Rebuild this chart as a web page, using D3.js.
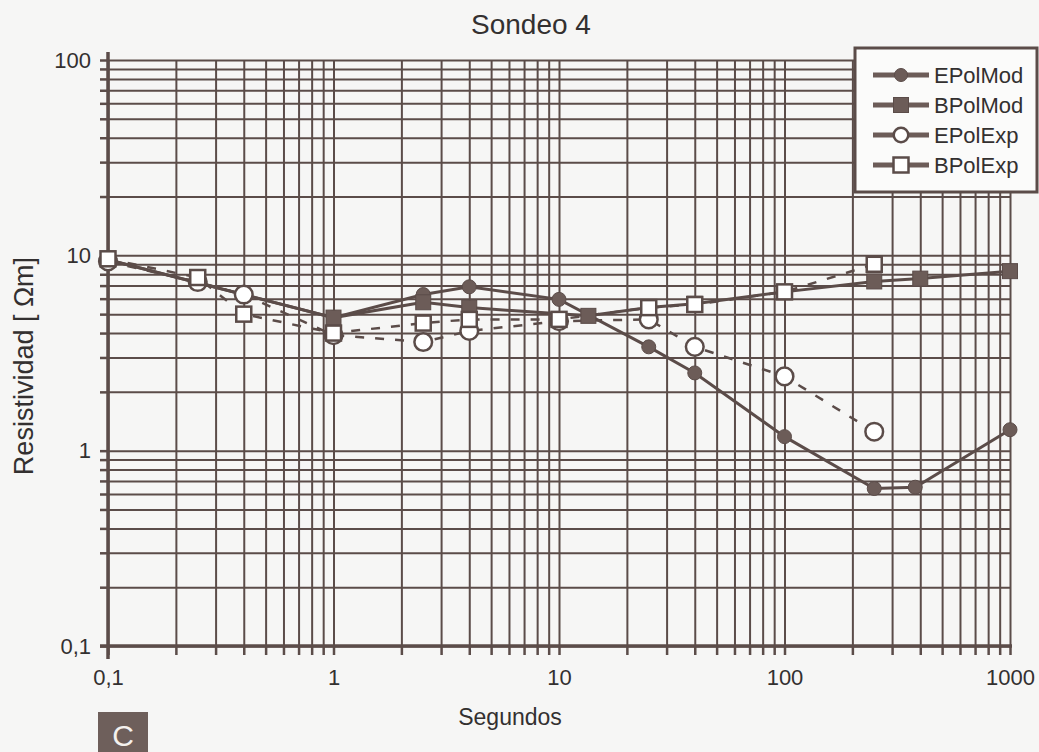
<!DOCTYPE html>
<html>
<head>
<meta charset="utf-8">
<script src="https://cdn.jsdelivr.net/npm/d3@7"></script>
<style>
  body { margin: 0; background: #f6f6f5; }
  svg { display: block; }
  svg text { font-family: "Liberation Sans", Arial, sans-serif; }
</style>
</head>
<body>
<svg id="chart" width="1039" height="752"></svg>
<script>
// periodos (s) y resistividad aparente (ohm m)
var EPOLMOD_T = [0.1, 1, 2.5, 4, 10, 25, 40, 100, 250, 380, 1000];
var EPOLMOD_R = [9.5, 4.8, 6.3, 6.9, 5.95, 3.4, 2.5, 1.18, 0.64, 0.65, 1.28];

var BPOLMOD_T = [0.1, 1, 2.5, 4, 13.5, 25, 40, 100, 250, 400, 1000];
var BPOLMOD_R = [9.5, 4.8, 5.75, 5.4, 4.9, 5.4, 5.65, 6.5, 7.35, 7.6, 8.3];

var EPOLEXP_T = [0.1, 0.25, 0.4, 1, 2.5, 4, 10, 25, 40, 100, 250];
var EPOLEXP_R = [9.3, 7.3, 6.3, 3.9, 3.6, 4.1, 4.6, 4.7, 3.4, 2.4, 1.25];

var BPOLEXP_T = [0.1, 0.25, 0.4, 1, 2.5, 4, 10, 25, 40, 100, 250];
var BPOLEXP_R = [9.6, 7.7, 5.0, 4.0, 4.5, 4.7, 4.7, 5.4, 5.6, 6.5, 9.0];

var SERIES_NAMES = ["EPolMod", "BPolMod", "EPolExp", "BPolExp"];
var X_LABELS = { 0.1: "0,1", 1: "1", 10: "10", 100: "100", 1000: "1000" };
var Y_LABELS = { 0.1: "0,1", 1: "1", 10: "10", 100: "100" };

var INK = "#5b4c49", MARK = "#6c5c58", TEXT = "#333030";

var svg = d3.select("#chart");
var L = 108, R = 1010, T = 60, B = 646;

var x = d3.scaleLog().domain([0.1, 1000]).range([L, R]);
var y = d3.scaleLog().domain([0.1, 100]).range([B, T]);

// rejilla
var gridX = svg.append("g").attr("transform", "translate(0," + B + ")")
  .call(d3.axisBottom(x).tickValues(x.ticks()).tickSize(-(B - T)).tickFormat(""));
var gridY = svg.append("g").attr("transform", "translate(" + L + ",0)")
  .call(d3.axisLeft(y).tickValues(y.ticks()).tickSize(-(R - L)).tickFormat(""));
[gridX, gridY].forEach(function(g) {
  g.select(".domain").remove();
  g.selectAll("line").attr("stroke", INK).attr("stroke-width", 2);
});

// ejes con marcas hacia fuera
var axX = svg.append("g").attr("transform", "translate(0," + B + ")")
  .call(d3.axisBottom(x).tickValues(x.ticks()).tickSize(9)
    .tickFormat(function(d) { return X_LABELS[d] || ""; }));
var axY = svg.append("g").attr("transform", "translate(" + L + ",0)")
  .call(d3.axisLeft(y).tickValues(y.ticks()).tickSize(8)
    .tickFormat(function(d) { return Y_LABELS[d] || ""; }));
[axX, axY].forEach(function(g) {
  g.attr("font-family", null).attr("font-size", null);
  g.select(".domain").remove();
  g.selectAll("line").attr("stroke", INK).attr("stroke-width", 2.5);
  g.selectAll("text").attr("fill", TEXT).style("font-size", "22px");
});
axX.selectAll("text").attr("dy", "1.23em");
axY.selectAll("text").attr("x", -17);

svg.append("line").attr("x1", L).attr("x2", L).attr("y1", T - 8).attr("y2", B + 13)
  .attr("stroke", INK).attr("stroke-width", 3.5);
svg.append("line").attr("x1", L - 8).attr("x2", R + 2).attr("y1", B).attr("y2", B)
  .attr("stroke", INK).attr("stroke-width", 3.5);

// series
var series = [
  { t: EPOLMOD_T, r: EPOLMOD_R, dash: null, shape: "circle", fill: MARK },
  { t: BPOLMOD_T, r: BPOLMOD_R, dash: null, shape: "square", fill: MARK },
  { t: EPOLEXP_T, r: EPOLEXP_R, dash: "9,11", shape: "circle", fill: "#ffffff" },
  { t: BPOLEXP_T, r: BPOLEXP_R, dash: "9,11", shape: "square", fill: "#ffffff" }
];

var line = d3.line().x(function(d) { return x(d[0]); }).y(function(d) { return y(d[1]); });

function drawMarker(g, shape, fill, cx, cy, s) {
  if (shape === "circle") {
    g.append("circle").attr("cx", cx).attr("cy", cy)
      .attr("r", fill === MARK ? s * 0.5 : s * 0.52)
      .attr("fill", fill).attr("stroke", INK).attr("stroke-width", fill === MARK ? 1 : 2.5);
  } else {
    g.append("rect").attr("x", cx - s / 2).attr("y", cy - s / 2).attr("width", s).attr("height", s)
      .attr("fill", fill).attr("stroke", INK).attr("stroke-width", fill === MARK ? 1 : 2.5);
  }
}

series.forEach(function(s) {
  var pts = d3.zip(s.t, s.r);
  svg.append("path").datum(pts).attr("d", line)
    .attr("fill", "none").attr("stroke", INK)
    .attr("stroke-width", s.dash ? 2.5 : 3)
    .attr("stroke-dasharray", s.dash);
});
series.forEach(function(s) {
  var g = svg.append("g");
  d3.zip(s.t, s.r).forEach(function(p) {
    drawMarker(g, s.shape, s.fill, x(p[0]), y(p[1]), s.shape === "circle" ? (s.fill === MARK ? 14 : 17) : 15);
  });
});

// leyenda
var leg = svg.append("g").attr("transform", "translate(855,48)");
leg.append("rect").attr("width", 182).attr("height", 144)
  .attr("fill", "#fbfbfa").attr("stroke", INK).attr("stroke-width", 3);
SERIES_NAMES.forEach(function(name, i) {
  var s = series[i], cy = 27 + i * 30;
  leg.append("line").attr("x1", 18).attr("x2", 74).attr("y1", cy).attr("y2", cy)
    .attr("stroke", MARK).attr("stroke-width", 5);
  drawMarker(leg, s.shape, s.fill, 46, cy, s.shape === "circle" ? (s.fill === MARK ? 13 : 14) : 15);
  leg.append("text").attr("x", 79).attr("y", cy).attr("dy", "0.36em")
    .attr("fill", TEXT).style("font-size", "22px").text(name);
});

// textos
svg.append("text").attr("x", 531).attr("y", 34).attr("text-anchor", "middle")
  .attr("fill", TEXT).style("font-size", "28px").text("Sondeo 4");
svg.append("text").attr("x", 510).attr("y", 725).attr("text-anchor", "middle")
  .attr("fill", TEXT).style("font-size", "23px").text("Segundos");
svg.append("text").attr("transform", "translate(33,366) rotate(-90)").attr("text-anchor", "middle")
  .attr("fill", TEXT).style("font-size", "27px").text("Resistividad [ \u03A9m]");

svg.append("rect").attr("x", 98).attr("y", 712).attr("width", 50).attr("height", 45).attr("fill", "#6e5f5b");
svg.append("text").attr("x", 123).attr("y", 746).attr("text-anchor", "middle")
  .attr("fill", "#f4f1ee").style("font-size", "30px").text("C");
</script>
</body>
</html>
